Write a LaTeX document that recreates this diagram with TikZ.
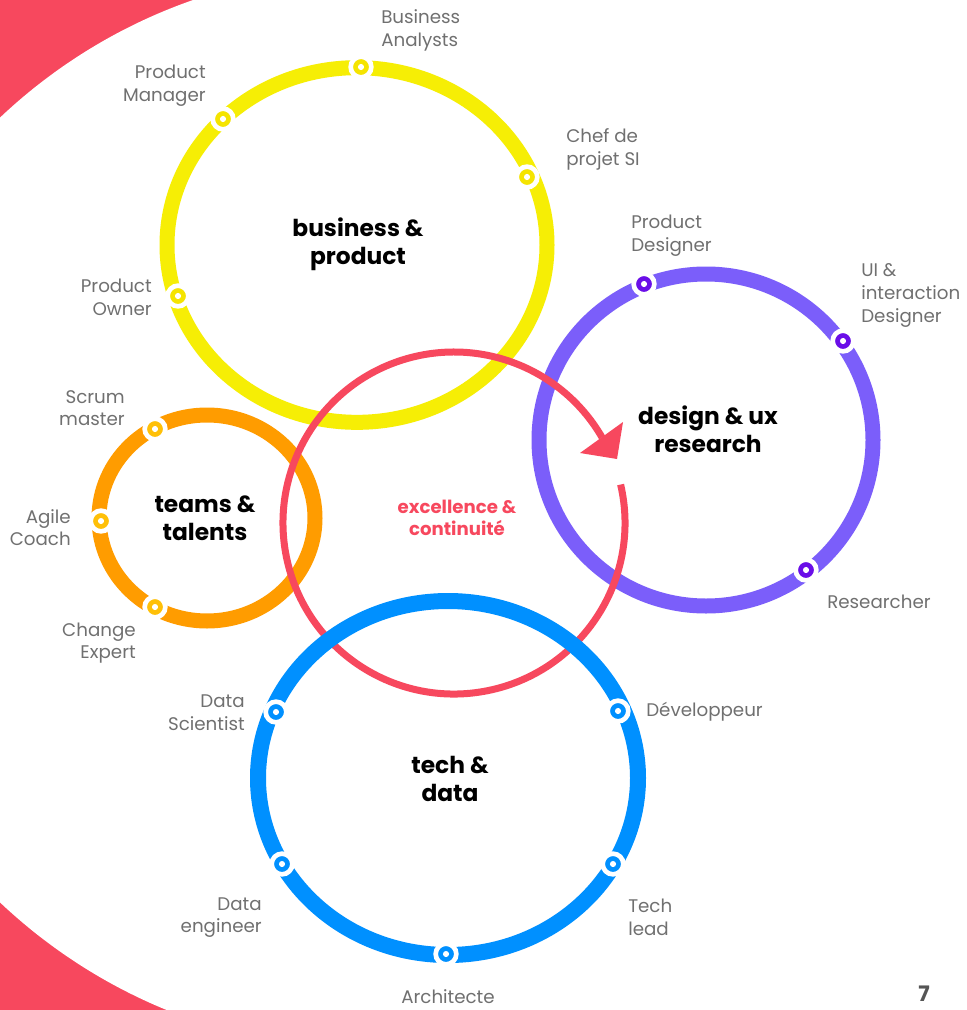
\documentclass[tikz,border=0pt]{standalone}
\usepackage{fontspec}
\setmainfont{Poppins}
\definecolor{bgred}{RGB}{247,72,94}
\definecolor{yring}{RGB}{246,238,5}
\definecolor{ymark}{RGB}{245,228,0}
\definecolor{oring}{RGB}{255,156,0}
\definecolor{omark}{RGB}{255,192,8}
\definecolor{pring}{RGB}{123,94,250}
\definecolor{pmark}{RGB}{106,14,232}
\definecolor{bring}{RGB}{0,144,255}
\definecolor{txtgray}{RGB}{112,112,112}
\definecolor{numgray}{RGB}{85,85,85}
\begin{document}
\begin{tikzpicture}[x=0.75pt,y=-0.75pt,
  ring/.style={line width=11.25pt},
  marker/.style={circle, fill=#1, draw=white, line width=3.5pt, minimum size=15.5pt, inner sep=0pt,
    path picture={\fill[white] (path picture bounding box.center) circle (2.3pt);}},
  lbl/.style={text=txtgray, font=\fontsize{13.7}{17}\selectfont, inner sep=0pt},
  lblL/.style={lbl, anchor=west, align=left},
  lblR/.style={lbl, anchor=east, align=right},
  ttl/.style={font=\fontsize{17.5}{21}\selectfont\bfseries, align=center, inner sep=0pt, text=black},
]
\useasboundingbox (0,0) rectangle (967,1010);
% background
\begin{scope}
  \clip (0,0) rectangle (967,1010);
  \fill[bgred] (0,0) rectangle (500,1010);
  \fill[white] (371,510) circle [radius=405pt];
\end{scope}

% yellow ring
\draw[ring, yring] (357,245) ellipse [x radius=142.5pt, y radius=133pt];
% orange ring
\draw[ring, oring] (207,518) ellipse [x radius=81pt, y radius=77.25pt];
% purple ring
\draw[ring, pring] (706,440) ellipse [x radius=125.25pt, y radius=124.5pt];

% red ring with arrow
\coordinate (rc) at (454,523);
\draw[bgred, line width=5.25pt] ([shift={(13:128.25pt)}]rc) arc[start angle=13, end angle=-330, radius=128.25pt];
\fill[bgred] (580,453) -- (623,422) -- (617,459) -- cycle;

% blue ring
\draw[line width=12pt, bring] (448,778) ellipse [x radius=142.5pt, y radius=132.75pt];

% markers
\node[marker=ymark] (mBA) at (361,67) {};
\node[marker=ymark] (mPM) at (223,119) {};
\node[marker=ymark] (mCP) at (527,177) {};
\node[marker=ymark] (mPO) at (178,296) {};
\node[marker=omark] (mSM) at (155,429) {};
\node[marker=omark] (mAC) at (101,521) {};
\node[marker=omark] (mCE) at (155,607) {};
\node[marker=pmark] (mPD) at (644,284) {};
\node[marker=pmark] (mUI) at (843,341) {};
\node[marker=pmark] (mRE) at (806,570) {};
\node[marker=bring] (mDS) at (276,712) {};
\node[marker=bring] (mDV) at (618,711) {};
\node[marker=bring] (mDE) at (282,864) {};
\node[marker=bring] (mTL) at (613,864) {};
\node[marker=bring] (mAR) at (446,954) {};

% titles
\node[ttl] (tBP) at (358,244) {business \&\\product};
\node[ttl] (tDU) at (708,429) {design \& ux\\research};
\node[ttl] (tTT) at (205,518) {teams \&\\talents};
\node[ttl] (tTD) at (450,779) {tech \&\\data};
\node[font=\fontsize{13.6}{16.5}\selectfont\bfseries, align=center, inner sep=0pt, text=bgred] (tEC) at (457,518) {excellence \&\\continuité};

% labels
\node[lblL] (lBA) at (381,30.5) {Business\\Analysts};
\node[lblR] (lPM) at (206,86) {Product\\Manager};
\node[lblL] (lCP) at (566,149.5) {Chef de\\projet SI};
\node[lblR] (lPO) at (152,297) {Product\\Owner};
\node[lblL] (lPD) at (631,235.5) {Product\\Designer};
\node[lblL] (lUI) at (861,295.5) {UI \&\\interaction\\Designer};
\node[lblL] (lRE) at (827,602) {Researcher};
\node[lblR] (lSM) at (125,408) {Scrum\\master};
\node[lblR] (lAC) at (71,527.5) {Agile\\Coach};
\node[lblR] (lCE) at (136,643) {Change\\Expert};
\node[lblR] (lDS) at (245,712.5) {Data\\Scientist};
\node[lblL] (lDV) at (646,712) {Développeur};
\node[lblR] (lDE) at (262,917.5) {Data\\engineer};
\node[lblL] (lTL) at (628,917.5) {Tech\\lead};
\node[lbl] (lAR) at (448,997) {Architecte};

\node[font=\fontsize{16}{18}\selectfont\bfseries, text=numgray, inner sep=0pt, anchor=north] (pg) at (924,986) {7};
\end{tikzpicture}
\end{document}
